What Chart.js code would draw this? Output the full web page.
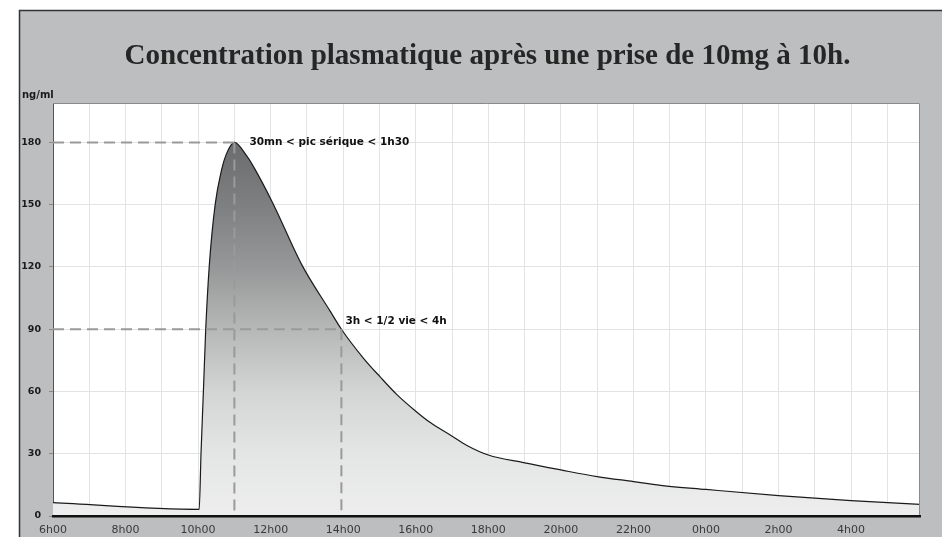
<!DOCTYPE html>
<html><head><meta charset="utf-8">
<script src="https://cdn.jsdelivr.net/npm/chart.js@4/dist/chart.umd.min.js"></script>
<style>html,body{margin:0;padding:0;background:#fff;} #wrap{position:relative;width:942px;height:537px;}</style>
</head><body><div id="wrap"><canvas id="c"></canvas></div>
<script>
const titleText = 'Concentration plasmatique après une prise de 10mg à 10h.';
const yAxisUnit = 'ng/ml';
// hours elapsed since 6h00
const hours =         [0,   4.03, 4.08, 4.15, 4.21, 4.31, 4.47, 4.65, 4.77, 5.0, 5.34, 5.57, 6.08, 6.86, 7.64, 7.95, 8.56, 9.02, 9.48, 10.0, 10.4, 10.95, 11.41, 12.0, 12.97, 14.0, 15.0, 16.0, 16.75, 18.0, 20.0, 22.0, 23.9];
const concentration = [6.4, 3.2,  30,   62,   90,   121,  150,  167,  174,  180, 173.5, 167, 150,  121,  98.7, 90,   76,   67,   58.5, 50.5, 45.0, 39.0,  34.0,  29.4, 25.7,  22.2, 19.0, 16.6, 14.8,  12.8, 9.8,  7.4,  5.6];
const gridHours = [0,1,2,3,4,5,6,7,8,9,10,11,12,13,14,15,16,17,18,19,20,21,22,23];
const xTickHours = [0,2,4,6,8,10,12,14,16,18,20,22];
const xTickLabels = ['6h00','8h00','10h00','12h00','14h00','16h00','18h00','20h00','22h00','0h00','2h00','4h00'];
const yTickValues = [0,30,60,90,120,150,180];
const markHours = [5, 7.95];
const markValues = [180, 90];
const markLabels = ['30mn < pic sérique < 1h30', '3h < 1/2 vie < 4h'];

const decor = {
  id: 'decor',
  beforeDraw(chart) {
    const ctx = chart.ctx, a = chart.chartArea;
    ctx.save();
    ctx.fillStyle = '#ffffff';
    ctx.fillRect(0, 0, chart.width, chart.height);
    ctx.fillStyle = '#bcbebf';
    ctx.fillRect(19, 10, chart.width - 19, chart.height - 10);
    ctx.strokeStyle = '#333333';
    ctx.lineWidth = 1.5;
    ctx.beginPath();
    ctx.moveTo(19.5, chart.height); ctx.lineTo(19.5, 10.5); ctx.lineTo(chart.width, 10.5);
    ctx.stroke();
    ctx.fillStyle = '#ffffff';
    ctx.fillRect(a.left, a.top, a.right - a.left, a.bottom - a.top);
    // title
    ctx.fillStyle = '#262626';
    ctx.font = 'bold 29px "Liberation Serif", "DejaVu Serif", serif';
    ctx.textAlign = 'center';
    ctx.textBaseline = 'alphabetic';
    ctx.fillText(titleText, 487.5, 64);
    // unit
    ctx.font = 'bold 10px "DejaVu Sans", sans-serif';
    ctx.textAlign = 'left';
    ctx.textBaseline = 'middle';
    ctx.fillStyle = '#1a1a1a';
    ctx.fillText(yAxisUnit, 22, 95);
    ctx.restore();
  },
  afterDatasetsDraw(chart) {
    const ctx = chart.ctx, a = chart.chartArea, xs = chart.scales.x, ys = chart.scales.y;
    ctx.save();
    ctx.strokeStyle = '#9a9a9a';
    ctx.lineWidth = 2;
    ctx.setLineDash([11, 6]);
    for (let i = 0; i < markHours.length; i++) {
      const px = xs.getPixelForValue(markHours[i]);
      const py = ys.getPixelForValue(markValues[i]);
      ctx.beginPath();
      ctx.moveTo(a.left, py); ctx.lineTo(px, py);
      ctx.stroke();
      ctx.beginPath();
      ctx.moveTo(px, py); ctx.lineTo(px, a.bottom);
      ctx.stroke();
    }
    ctx.setLineDash([]);
    ctx.fillStyle = '#111111';
    ctx.font = 'bold 10.5px "DejaVu Sans", sans-serif';
    ctx.textAlign = 'left';
    ctx.textBaseline = 'middle';
    const p0x = xs.getPixelForValue(markHours[0]), p0y = ys.getPixelForValue(markValues[0]);
    ctx.fillText(markLabels[0], p0x + 15, p0y);
    const p1x = xs.getPixelForValue(markHours[1]), p1y = ys.getPixelForValue(markValues[1]);
    ctx.fillText(markLabels[1], p1x + 4, p1y - 8);
    // plot frame top/right
    ctx.strokeStyle = '#8a8a8a';
    ctx.lineWidth = 1;
    ctx.beginPath();
    ctx.moveTo(a.left, a.top + 0.5); ctx.lineTo(a.right - 0.5, a.top + 0.5); ctx.lineTo(a.right - 0.5, a.bottom);
    ctx.stroke();
    ctx.restore();
  }
};

new Chart(document.getElementById('c'), {
  type: 'line',
  data: {
    datasets: [{
      data: hours.map((h, i) => ({x: h, y: concentration[i]})),
      borderColor: '#1a1a1a',
      borderWidth: 1.2,
      pointRadius: 0,
      cubicInterpolationMode: 'monotone',
      fill: 'origin',
      backgroundColor: (context) => {
        const chart = context.chart;
        const {ctx, chartArea, scales} = chart;
        if (!chartArea) return 'rgba(0,0,0,0)';
        const y0 = scales.y.getPixelForValue(180), y1 = scales.y.getPixelForValue(0);
        const g = ctx.createLinearGradient(0, y0, 0, y1);
        g.addColorStop(0, '#6b6c6d');
        g.addColorStop(1/6, '#7e7f80');
        g.addColorStop(2/6, '#969798');
        g.addColorStop(3/6, '#b6b7b7');
        g.addColorStop(4/6, '#d3d4d4');
        g.addColorStop(5/6, '#e4e5e5');
        g.addColorStop(1, '#eeeeee');
        return g;
      }
    }]
  },
  options: {
    responsive: true,
    maintainAspectRatio: false,
    animation: false,
    layout: {padding: {top: 103, right: 22, left: 0, bottom: 0}},
    plugins: {legend: {display: false}, tooltip: {enabled: false}, title: {display: false}},
    scales: {
      x: {
        type: 'linear', min: 0, max: 23.9,
        afterBuildTicks: (s) => { s.ticks = gridHours.map(v => ({value: v})); },
        afterFit: (s) => { s.height = 21; },
        grid: {color: '#e3e3e3', lineWidth: 1, drawTicks: false},
        border: {display: true, color: '#111111', width: 2.5, z: 1},
        ticks: {
          autoSkip: false, maxRotation: 0, padding: 8, color: '#3a3a3a',
          font: {family: '"DejaVu Sans", sans-serif', size: 11},
          callback: (v) => { const i = xTickHours.indexOf(v); return i >= 0 ? xTickLabels[i] : ''; }
        }
      },
      y: {
        min: 0, max: 199,
        afterBuildTicks: (s) => { s.ticks = yTickValues.map(v => ({value: v})); },
        afterFit: (s) => { s.width = 53; },
        grid: {color: '#e3e3e3', lineWidth: 1, tickLength: 4, tickColor: '#888888'},
        border: {display: true, color: '#555555', width: 1},
        ticks: {
          padding: 8, color: '#1a1a1a',
          font: {family: '"DejaVu Sans", sans-serif', size: 9.5, weight: 'bold'}
        }
      }
    }
  },
  plugins: [decor]
});
</script>
</body></html>
